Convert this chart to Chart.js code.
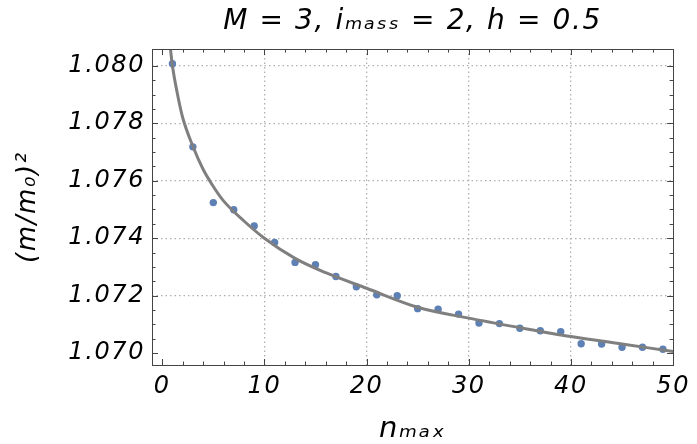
<!DOCTYPE html>
<html>
<head>
<meta charset="utf-8">
<script src="https://cdn.jsdelivr.net/npm/chart.js@4.4.1/dist/chart.umd.min.js"></script>
<style>
html,body{margin:0;padding:0;background:#fff;}
#wrap{width:697px;height:444px;}
</style>
</head>
<body>
<div id="wrap"><canvas id="c" width="697" height="444"></canvas></div>
<script>
// Data
const nMax = [1,3,5,7,9,11,13,15,17,19,21,23,25,27,29,31,33,35,37,39,41,43,45,47,49];
const massSq = [1.08007,1.07718,1.07524,1.07499,1.07443,1.07385,1.07316,1.07308,1.07267,1.07231,
                1.07203,1.07200,1.07155,1.07153,1.07136,1.07105,1.07103,1.07087,1.07078,1.07075,
                1.07033,1.07032,1.07021,1.07021,1.07014];
// Fitted curve
const fitX = [0.8,1,1.5,2,3,4,5,6,8,10,13,16,20,25,30,35,40,45,50];
const fitY = [1.0806,1.0800,1.0790,1.0782,1.0772,1.0764,1.0758,1.0753,1.0746,1.0740,1.0733,1.0728,
              1.07226,1.0716,1.07122,1.07089,1.07058,1.07032,1.07006];
const xTicks = [0,10,20,30,40,50];
const yTicks = [1.070,1.072,1.074,1.076,1.078,1.080];
const xMinor = [0,2,4,6,8,10,12,14,16,18,20,22,24,26,28,30,32,34,36,38,40,42,44,46,48,50];
const yMinor = [1.0700,1.0705,1.0710,1.0715,1.0720,1.0725,1.0730,1.0735,1.0740,1.0745,1.0750,
                1.0755,1.0760,1.0765,1.0770,1.0775,1.0780,1.0785,1.0790,1.0795,1.0800];

const FONT = "'DejaVu Sans', sans-serif";
const FRAME = '#444';
const SPACING = '1.6px';

const framePlugin = {
  id: 'frame',
  beforeUpdate(chart) { chart.ctx.letterSpacing = SPACING; },
  beforeDraw(chart) { chart.ctx.letterSpacing = SPACING; },
  afterLayout(chart) {
    // centre the title over the plot frame, as in the reference
    const t = chart.titleBlock, a = chart.chartArea;
    if (t) { t.left = a.left; t.right = a.right; t.width = a.right - a.left; }
  },
  afterDraw(chart) {
    const {ctx, chartArea: a, scales: {x, y}} = chart;
    ctx.save();
    ctx.strokeStyle = FRAME;
    ctx.lineWidth = 1;
    ctx.beginPath();
    const majX = new Set(xTicks);
    xMinor.forEach(v => {
      const px = Math.round(x.getPixelForValue(v)) + 0.5;
      const L = majX.has(v) ? 6 : 3.5;
      ctx.moveTo(px, a.bottom); ctx.lineTo(px, a.bottom - L);
      ctx.moveTo(px, a.top); ctx.lineTo(px, a.top + L);
    });
    const majY = new Set(yTicks.map(v => v.toFixed(4)));
    yMinor.forEach(v => {
      const py = Math.round(y.getPixelForValue(v)) + 0.5;
      const L = majY.has(v.toFixed(4)) ? 6 : 3.5;
      ctx.moveTo(a.left, py); ctx.lineTo(a.left + L, py);
      ctx.moveTo(a.right, py); ctx.lineTo(a.right - L, py);
    });
    ctx.stroke();
    ctx.strokeRect(Math.round(a.left) + 0.5, Math.round(a.top) + 0.5,
                   Math.round(a.right - a.left), Math.round(a.bottom - a.top));
    ctx.restore();
  }
};

new Chart(document.getElementById('c'), {
  type: 'scatter',
  data: {
    datasets: [
      {
        label: 'fit',
        data: fitX.map((v, i) => ({x: v, y: fitY[i]})),
        showLine: true,
        borderColor: '#7f7f7f',
        borderWidth: 3,
        pointRadius: 0,
        cubicInterpolationMode: 'monotone',
        fill: false
      },
      {
        label: 'data',
        data: nMax.map((v, i) => ({x: v, y: massSq[i]})),
        pointRadius: 3.7,
        pointBackgroundColor: '#5E81B5',
        pointBorderWidth: 0,
        borderColor: '#5E81B5'
      }
    ]
  },
  options: {
    responsive: false,
    animation: false,
    layout: {padding: {left: 0, right: 18, top: 0, bottom: 0}},
    plugins: {
      legend: {display: false},
      tooltip: {enabled: false},
      title: {
        display: true,
        text: 'M = 3, iₘₐₛₛ = 2, h = 0.5',
        color: '#000',
        font: {family: FONT, size: 28, style: 'italic', weight: 'normal', lineHeight: 1.2},
        padding: {top: 5, bottom: 10.5}
      }
    },
    scales: {
      x: {
        type: 'linear',
        min: -1, max: 50,
        afterBuildTicks: s => { s.ticks = xTicks.map(v => ({value: v})); },
        afterFit: s => { s.height = 79; },
        grid: {
          drawTicks: false,
          color: c => (c.tick && (c.tick.value === 0 || c.tick.value === 50)) ? 'rgba(0,0,0,0)' : '#b0b0b0',
          lineWidth: 1.3
        },
        border: {display: false, dash: [1.5, 3]},
        ticks: {
          color: '#000',
          padding: 7,
          font: {family: FONT, size: 24, style: 'italic'},
          callback: v => String(v)
        },
        title: {
          display: true,
          text: 'nₘₐₓ',
          color: '#000',
          font: {family: FONT, size: 29, style: 'italic'},
          padding: {top: 0, bottom: -3}
        }
      },
      y: {
        type: 'linear',
        min: 1.06959, max: 1.08058,
        afterBuildTicks: s => { s.ticks = yTicks.map(v => ({value: v})); },
        afterFit: s => { s.width = 152; },
        grid: {
          drawTicks: false,
          color: c => (c.tick && Math.abs(c.tick.value - 1.070) < 1e-6) ? 'rgba(0,0,0,0)' : '#b0b0b0',
          lineWidth: 1.3
        },
        border: {display: false, dash: [1.5, 3]},
        ticks: {
          color: '#000',
          padding: 7,
          font: {family: FONT, size: 24, style: 'italic'},
          callback: v => Number(v).toFixed(3)
        },
        title: {
          display: true,
          text: '(m/m₀)²',
          color: '#000',
          font: {family: FONT, size: 26, style: 'italic'},
          padding: {top: 13, bottom: 0}
        }
      }
    }
  },
  plugins: [framePlugin]
});
</script>
</body>
</html>
